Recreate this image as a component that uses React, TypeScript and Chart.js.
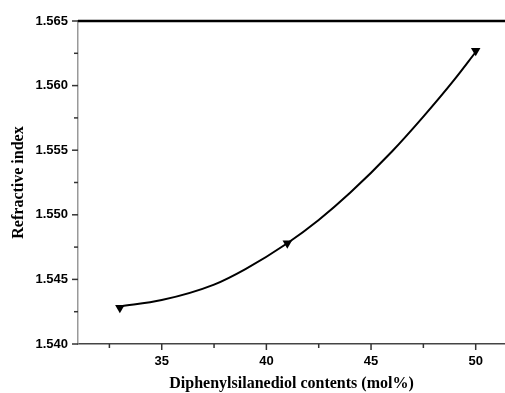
import React, { useEffect, useRef } from "react";
import { Chart, registerables } from "chart.js";

Chart.register(...registerables);

// measured points (markers)
const xValues = [33, 41, 50];
const refractiveIndex = [1.5428, 1.5478, 1.5627];
// smooth fitted curve
const curveX = [33, 35, 37.5, 39, 41, 42.5, 44, 46, 47.5, 49, 50];
const curveY = [1.5429, 1.5434, 1.5446, 1.5458, 1.5478, 1.5496, 1.5517, 1.5549, 1.5576, 1.5605, 1.5626];
const xTicks = [32.5, 35, 37.5, 40, 42.5, 45, 47.5, 50];
const xMajor = [35, 40, 45, 50];
const yTicks = [1.54, 1.5425, 1.545, 1.5475, 1.55, 1.5525, 1.555, 1.5575, 1.56, 1.5625, 1.565];
const yMajor = [1.54, 1.545, 1.55, 1.555, 1.56, 1.565];
const xTitle = "Diphenylsilanediol contents (mol%)";
const yTitle = "Refractive index";

const isMajor = (v: number, list: number[]) => list.some((m) => Math.abs(m - v) < 1e-6);

const tickPlugin = {
  id: "manualTicks",
  afterDraw(chart: any) {
    const ctx = chart.ctx;
    const xs = chart.scales.x;
    const ys = chart.scales.y;
    const area = chart.chartArea;
    ctx.save();
    ctx.lineCap = "butt";
    ctx.strokeStyle = "#333";
    ctx.lineWidth = 1.5;
    xs.ticks.forEach((t: any) => {
      const px = xs.getPixelForValue(t.value);
      const len = isMajor(t.value, xMajor) ? 6 : 4;
      ctx.beginPath();
      ctx.moveTo(px, area.bottom);
      ctx.lineTo(px, area.bottom + len);
      ctx.stroke();
    });
    ys.ticks.forEach((t: any) => {
      const py = ys.getPixelForValue(t.value);
      const len = isMajor(t.value, yMajor) ? 6 : 4;
      ctx.beginPath();
      ctx.moveTo(area.left, py);
      ctx.lineTo(area.left - len, py);
      ctx.stroke();
    });
    ctx.strokeStyle = "#000";
    ctx.lineWidth = 2.5;
    ctx.beginPath();
    ctx.moveTo(area.left, area.top);
    ctx.lineTo(chart.width, area.top);
    ctx.stroke();
    ctx.restore();
  },
};

export default function App() {
  const ref = useRef<HTMLCanvasElement | null>(null);
  useEffect(() => {
    if (!ref.current) return;
    const chart = new Chart(ref.current, {
      type: "line",
      data: {
        datasets: [
          {
            data: curveX.map((x, i) => ({ x, y: curveY[i] })),
            borderColor: "#000",
            borderWidth: 2,
            pointRadius: 0,
            cubicInterpolationMode: "monotone",
            fill: false,
            clip: false as any,
          },
          {
            data: xValues.map((x, i) => ({ x, y: refractiveIndex[i] })),
            showLine: false,
            borderColor: "#000",
            backgroundColor: "#000",
            pointStyle: "triangle",
            rotation: 180,
            pointRadius: 5.5,
            pointBorderWidth: 0,
            clip: false as any,
          },
        ],
      },
      options: {
        animation: false,
        responsive: false,
        layout: { autoPadding: false, padding: { top: 21, right: 0, left: 0, bottom: 0 } },
        plugins: { legend: { display: false }, tooltip: { enabled: false } },
        scales: {
          x: {
            type: "linear",
            min: 31,
            max: 51.4,
            grid: { display: false, tickLength: 6 },
            border: { display: true, color: "#444", width: 1.5 },
            afterBuildTicks: (s: any) => {
              s.ticks = xTicks.map((v) => ({ value: v }));
            },
            afterFit: (s: any) => {
              s.height = 49;
              s.paddingRight = 0;
              s.paddingLeft = 0;
            },
            ticks: {
              padding: 4,
              color: "#000",
              font: { family: "Liberation Sans", weight: "bold", size: 13 },
              callback: (v: any) => (isMajor(Number(v), xMajor) ? String(v) : ""),
              maxRotation: 0,
              autoSkip: false,
            },
            title: {
              display: true,
              text: xTitle,
              color: "#000",
              font: { family: "Liberation Serif", weight: "bold", size: 16 },
              padding: { top: 6, bottom: 0 },
            },
          },
          y: {
            type: "linear",
            min: 1.54,
            max: 1.565,
            grid: { display: false, tickLength: 6 },
            border: { display: true, color: "#999", width: 1.5 },
            afterBuildTicks: (s: any) => {
              s.ticks = yTicks.map((v) => ({ value: v }));
            },
            afterFit: (s: any) => {
              s.width = 78;
            },
            ticks: {
              padding: 4,
              color: "#000",
              font: { family: "Liberation Sans", weight: "bold", size: 13 },
              callback: (v: any) => (isMajor(Number(v), yMajor) ? Number(v).toFixed(3) : ""),
              autoSkip: false,
            },
            title: {
              display: true,
              text: yTitle,
              color: "#000",
              font: { family: "Liberation Serif", weight: "bold", size: 16 },
              padding: { top: 9, bottom: 0 },
            },
          },
        },
      },
      plugins: [tickPlugin],
    });
    return () => chart.destroy();
  }, []);
  return (
    <div style={{ position: "absolute", left: 0, top: 0, width: 505, height: 393, background: "#fff" }}>
      <canvas ref={ref} width={505} height={393} />
    </div>
  );
}
